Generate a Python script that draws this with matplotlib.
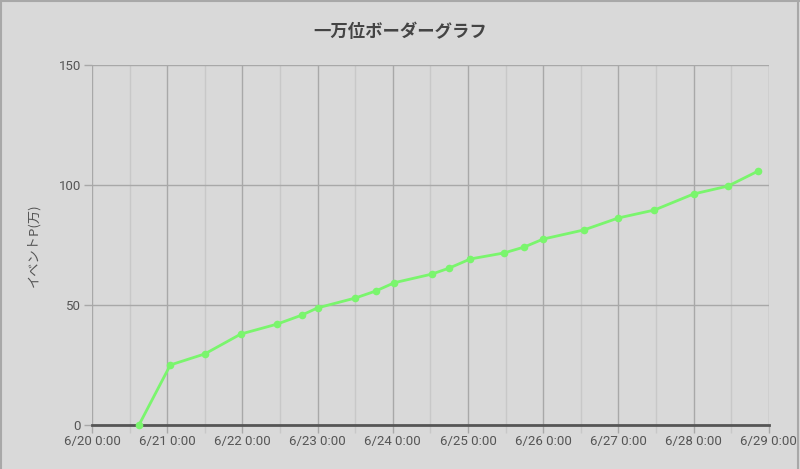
import pandas as pd
import matplotlib
matplotlib.use("Agg")
import matplotlib.pyplot as plt
import matplotlib.dates as mdates

plt.rcParams['font.family'] = ['Roboto', 'Noto Sans CJK JP', 'DejaVu Sans']

title = "一万位ボーダーグラフ"
y_label = "イベントP(万)"

# observed border points (date/time, points in 10k units)
times = [
    "2018-06-20 15:00", "2018-06-21 01:00", "2018-06-21 12:00", "2018-06-21 23:30",
    "2018-06-22 11:00", "2018-06-22 19:00", "2018-06-23 00:00", "2018-06-23 12:00",
    "2018-06-23 18:30", "2018-06-24 00:30", "2018-06-24 12:30", "2018-06-24 18:00",
    "2018-06-25 00:45", "2018-06-25 11:30", "2018-06-25 18:00", "2018-06-26 00:00",
    "2018-06-26 13:00", "2018-06-27 00:00", "2018-06-27 11:30", "2018-06-28 00:00",
    "2018-06-28 11:00", "2018-06-28 20:30",
]
values = [
    0, 25.0, 29.6, 37.9,
    42.0, 45.8, 48.8, 52.9,
    55.8, 59.3, 62.9, 65.4,
    69.2, 71.7, 74.2, 77.5,
    81.3, 86.3, 89.6, 96.3,
    99.6, 105.8,
]
x_start, x_end = "2018-06-20", "2018-06-29"
y_ticks = [0, 50, 100, 150]

t = pd.to_datetime(times)
bg = '#d9d9d9'

fig = plt.figure(figsize=(8, 4.69), dpi=100, facecolor=bg)
ax = fig.add_axes([0.115, 0.094, 0.846, 0.767])
ax.set_facecolor(bg)

ax.plot(t, values, color='#7af56d', lw=2, marker='o', ms=5.5,
        markeredgewidth=0, zorder=3, clip_on=False)

ax.set_xlim(pd.Timestamp(x_start), pd.Timestamp(x_end))
ax.set_ylim(0, 150)
ax.set_yticks(y_ticks)

ax.xaxis.set_major_locator(mdates.DayLocator())
ax.xaxis.set_minor_locator(mdates.HourLocator(byhour=[12]))
ax.xaxis.set_major_formatter(
    plt.FuncFormatter(lambda v, p: f"{mdates.num2date(v).month}/{mdates.num2date(v).day} 0:00"))

ax.grid(which='major', axis='both', color='#a8a8a8', lw=1.0)
ax.grid(which='minor', axis='x', color='#c8c8c8', lw=1.0)
ax.tick_params(which='major', axis='x', length=6, color='#a8a8a8', width=1.0,
               labelsize=9.5, labelcolor='#555555', pad=1)
ax.tick_params(which='minor', axis='x', length=6, color='#c8c8c8', width=1.0)
ax.tick_params(axis='y', length=6, color='#a8a8a8', width=1.0,
               labelsize=9.5, labelcolor='#555555', pad=2)

for side in ['top', 'right', 'left']:
    ax.spines[side].set_visible(False)
ax.spines['bottom'].set_color('#555555')
ax.spines['bottom'].set_linewidth(2)

ax.set_ylabel(y_label, fontsize=9.5, color='#555555', labelpad=13,
              family=['Noto Sans CJK JP', 'DejaVu Sans'])
fig.text(0.5, 0.932, title, ha='center', va='center', fontsize=12.5,
         color='#444444', weight='bold',
         family=['Noto Sans CJK JP', 'DejaVu Sans'])

# outer frame
fig.add_artist(plt.Line2D([0.001, 0.001], [0, 1], color='#a8a8a8', lw=1.5,
                          transform=fig.transFigure))
fig.add_artist(plt.Line2D([0, 1], [0.998, 0.998], color='#a8a8a8', lw=1.5,
                          transform=fig.transFigure))
fig.add_artist(plt.Line2D([0.997, 0.997], [0, 1], color='#a8a8a8', lw=1.5,
                          transform=fig.transFigure))

fig.savefig('out.png', dpi=100, facecolor=bg)
